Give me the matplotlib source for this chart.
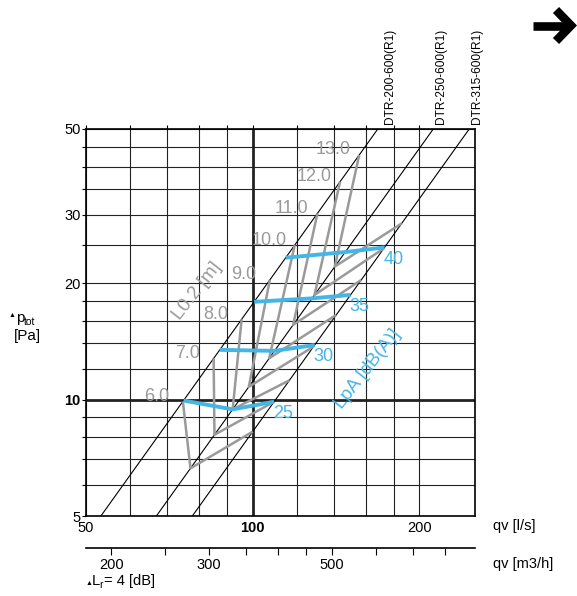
import numpy as np
import matplotlib
matplotlib.use("Agg")
import matplotlib.pyplot as plt
from matplotlib.lines import Line2D

plt.rcParams['font.family'] = ['Liberation Sans', 'DejaVu Sans']

# duct types and their system lines: pressure drop at 100 l/s [Pa], dp ~ q^2
ducts = ["DTR-200-600(R1)", "DTR-250-600(R1)", "DTR-315-600(R1)"]
duct_dp100 = [17.67, 11.14, 8.26]

# throw L0.2 curves: flow [l/s] where each one meets the three duct lines
throw_labels = ["6.0", "7.0", "8.0", "9.0", "10.0", "11.0", "12.0", "13.0"]
throw_q200 = [74.8, 85.0, 95.5, 107.4, 119.1, 130.9, 143.8, 155.7]
throw_q250 = [77.2, 85.3, 92.0, 98.4, 107.1, 118.3, 129.3, 140.7]
throw_q315 = [100.0, 109.3, 116.5, 128.8, 141.5, 157.0, 172.5, 185.8]

# sound level LpA curves
sound_labels = ["25", "30", "35", "40"]
sound_q200 = [75.0, 87.2, 100.6, 114.7]
sound_q250 = [92.0, 109.5, 128.0, 146.9]
sound_q315 = [109.3, 129.4, 150.2, 173.0]

x_grid = [50, 60, 70, 80, 90, 100, 120, 140, 160, 180, 200]
x_labels = ["50", "100", "200"]
y_grid = [5, 6, 7, 8, 9, 10, 12, 14, 16, 18, 20, 25, 30, 35, 40, 45, 50]
y_labels = ["5", "10", "20", "30", "50"]
m3h_ticks = [200, 250, 300, 350, 400, 450, 500, 600, 700, 800]
m3h_labels = ["200", "300", "500"]

W, H = 577, 596
GRAY = '#9a9a9a'
BLUE = '#45b5e6'


def fx(x):
    return x / W


def fy(y):
    return 1 - y / H


def dp_on(k, q):
    return duct_dp100[k] * (np.asarray(q) / 100.0) ** 2


fig = plt.figure(figsize=(W / 100, H / 100), dpi=100)
ax = fig.add_axes([fx(86), fy(516), (475 - 86) / W, (516 - 129) / H])
ax.set_xscale('log')
ax.set_yscale('log')
ax.set_xlim(50, 252)
ax.set_ylim(5, 50)
ax.minorticks_off()

ax.set_xticks(x_grid)
ax.set_xticklabels([str(v) if str(v) in x_labels else "" for v in x_grid])
ax.set_yticks(y_grid)
ax.set_yticklabels([str(v) if str(v) in y_labels else "" for v in y_grid])
ax.tick_params(axis='x', bottom=False, top=True, labelbottom=True,
               direction='out', length=3, width=0.8, pad=0.5, labelsize=10.5)
ax.tick_params(axis='y', left=True, direction='out', length=3, width=0.8,
               pad=1, labelsize=10.5)
for t in ax.get_xticklabels() + ax.get_yticklabels():
    if t.get_text() in ("100", "10"):
        t.set_fontweight('bold')

for v in x_grid:
    ax.axvline(v, color='#222222', lw=2.0 if v == 100 else 0.8, zorder=1)
for v in y_grid:
    ax.axhline(v, color='#222222', lw=2.0 if v == 10 else 0.8, zorder=1)
for s in ax.spines.values():
    s.set_linewidth(1.2)

# duct system lines
q_line = np.geomspace(40, 300, 60)
for k in range(len(ducts)):
    ax.plot(q_line, dp_on(k, q_line), color='black', lw=0.8, zorder=2)

# throw curves
for i, lab in enumerate(throw_labels):
    qs = [throw_q200[i], throw_q250[i], throw_q315[i]]
    dps = [float(dp_on(k, qs[k])) for k in range(3)]
    ax.plot(qs, dps, color=GRAY, lw=1.8, zorder=3, solid_capstyle='butt')
    ax.annotate(lab, (qs[0], dps[0]), xytext=(-26, 5), textcoords='offset pixels',
                ha='center', va='center', color=GRAY, fontsize=13, zorder=5)

# sound curves
for i, lab in enumerate(sound_labels):
    qs = [sound_q200[i], sound_q250[i], sound_q315[i]]
    dps = [float(dp_on(k, qs[k])) for k in range(3)]
    ax.plot(qs, dps, color=BLUE, lw=2.8, zorder=4, solid_capstyle='butt')
    ax.annotate(lab, (qs[2], dps[2]), xytext=(9, -12), textcoords='offset pixels',
                ha='center', va='center', color=BLUE, fontsize=13, zorder=5)

fig.text(fx(197), fy(291), "L0.2 [m]", rotation=52, color=GRAY, fontsize=13.5,
         ha='center', va='center')
fig.text(fx(368), fy(369), "LpA [dB(A)]", rotation=52, color=BLUE,
         fontsize=13.5, ha='center', va='center')

# duct labels
for name, x in zip(ducts, [390, 441, 477]):
    fig.text(fx(x), fy(124), name, rotation=90, ha='center', va='bottom',
             fontsize=8.6)

# secondary flow axis in m3/h
ax2 = fig.add_axes([fx(86), fy(548), (475 - 86) / W, 0.0001])
ax2.set_xscale('log')
ax2.set_xlim(50 * 3.6, 252 * 3.6)
ax2.minorticks_off()
ax2.set_xticks(m3h_ticks)
ax2.set_xticklabels([str(v) if str(v) in m3h_labels else "" for v in m3h_ticks])
ax2.set_yticks([])
ax2.patch.set_visible(False)
for name in ('top', 'left', 'right'):
    ax2.spines[name].set_visible(False)
ax2.spines['bottom'].set_linewidth(1.2)
ax2.tick_params(axis='x', direction='out', length=5, width=0.8, pad=2,
                labelsize=10.5)

fig.text(fx(493), fy(526), "qv [l/s]", fontsize=10.5, va='center')
fig.text(fx(493), fy(564), "qv [m3/h]", fontsize=10.5, va='center')

# delta Lr note
fig.text(fx(86), fy(585), "\u25b2", fontsize=5, va='baseline')
fig.text(fx(92), fy(585), "L", fontsize=10.5, va='baseline')
fig.text(fx(99.5), fy(588), "r", fontsize=7.5, va='baseline')
fig.text(fx(104), fy(585), "= 4 [dB]", fontsize=10.5, va='baseline')

# y label
fig.text(fx(9), fy(317), "\u25b2", fontsize=5, va='baseline')
fig.text(fx(16), fy(322), "p", fontsize=11, va='baseline')
fig.text(fx(24), fy(325), "tot", fontsize=7.5, va='baseline')
fig.text(fx(14), fy(340), "[Pa]", fontsize=11, va='baseline')

# arrow at top right
fig.add_artist(Line2D([fx(533), fx(568)], [fy(25.5), fy(25.5)], color='black',
                      lw=6.2, solid_capstyle='butt'))
fig.add_artist(Line2D([fx(556), fx(571), fx(556)], [fy(10), fy(25.5), fy(41)],
                      color='black', lw=6.2, solid_capstyle='butt',
                      solid_joinstyle='miter'))

fig.savefig("out.png", dpi=100)
